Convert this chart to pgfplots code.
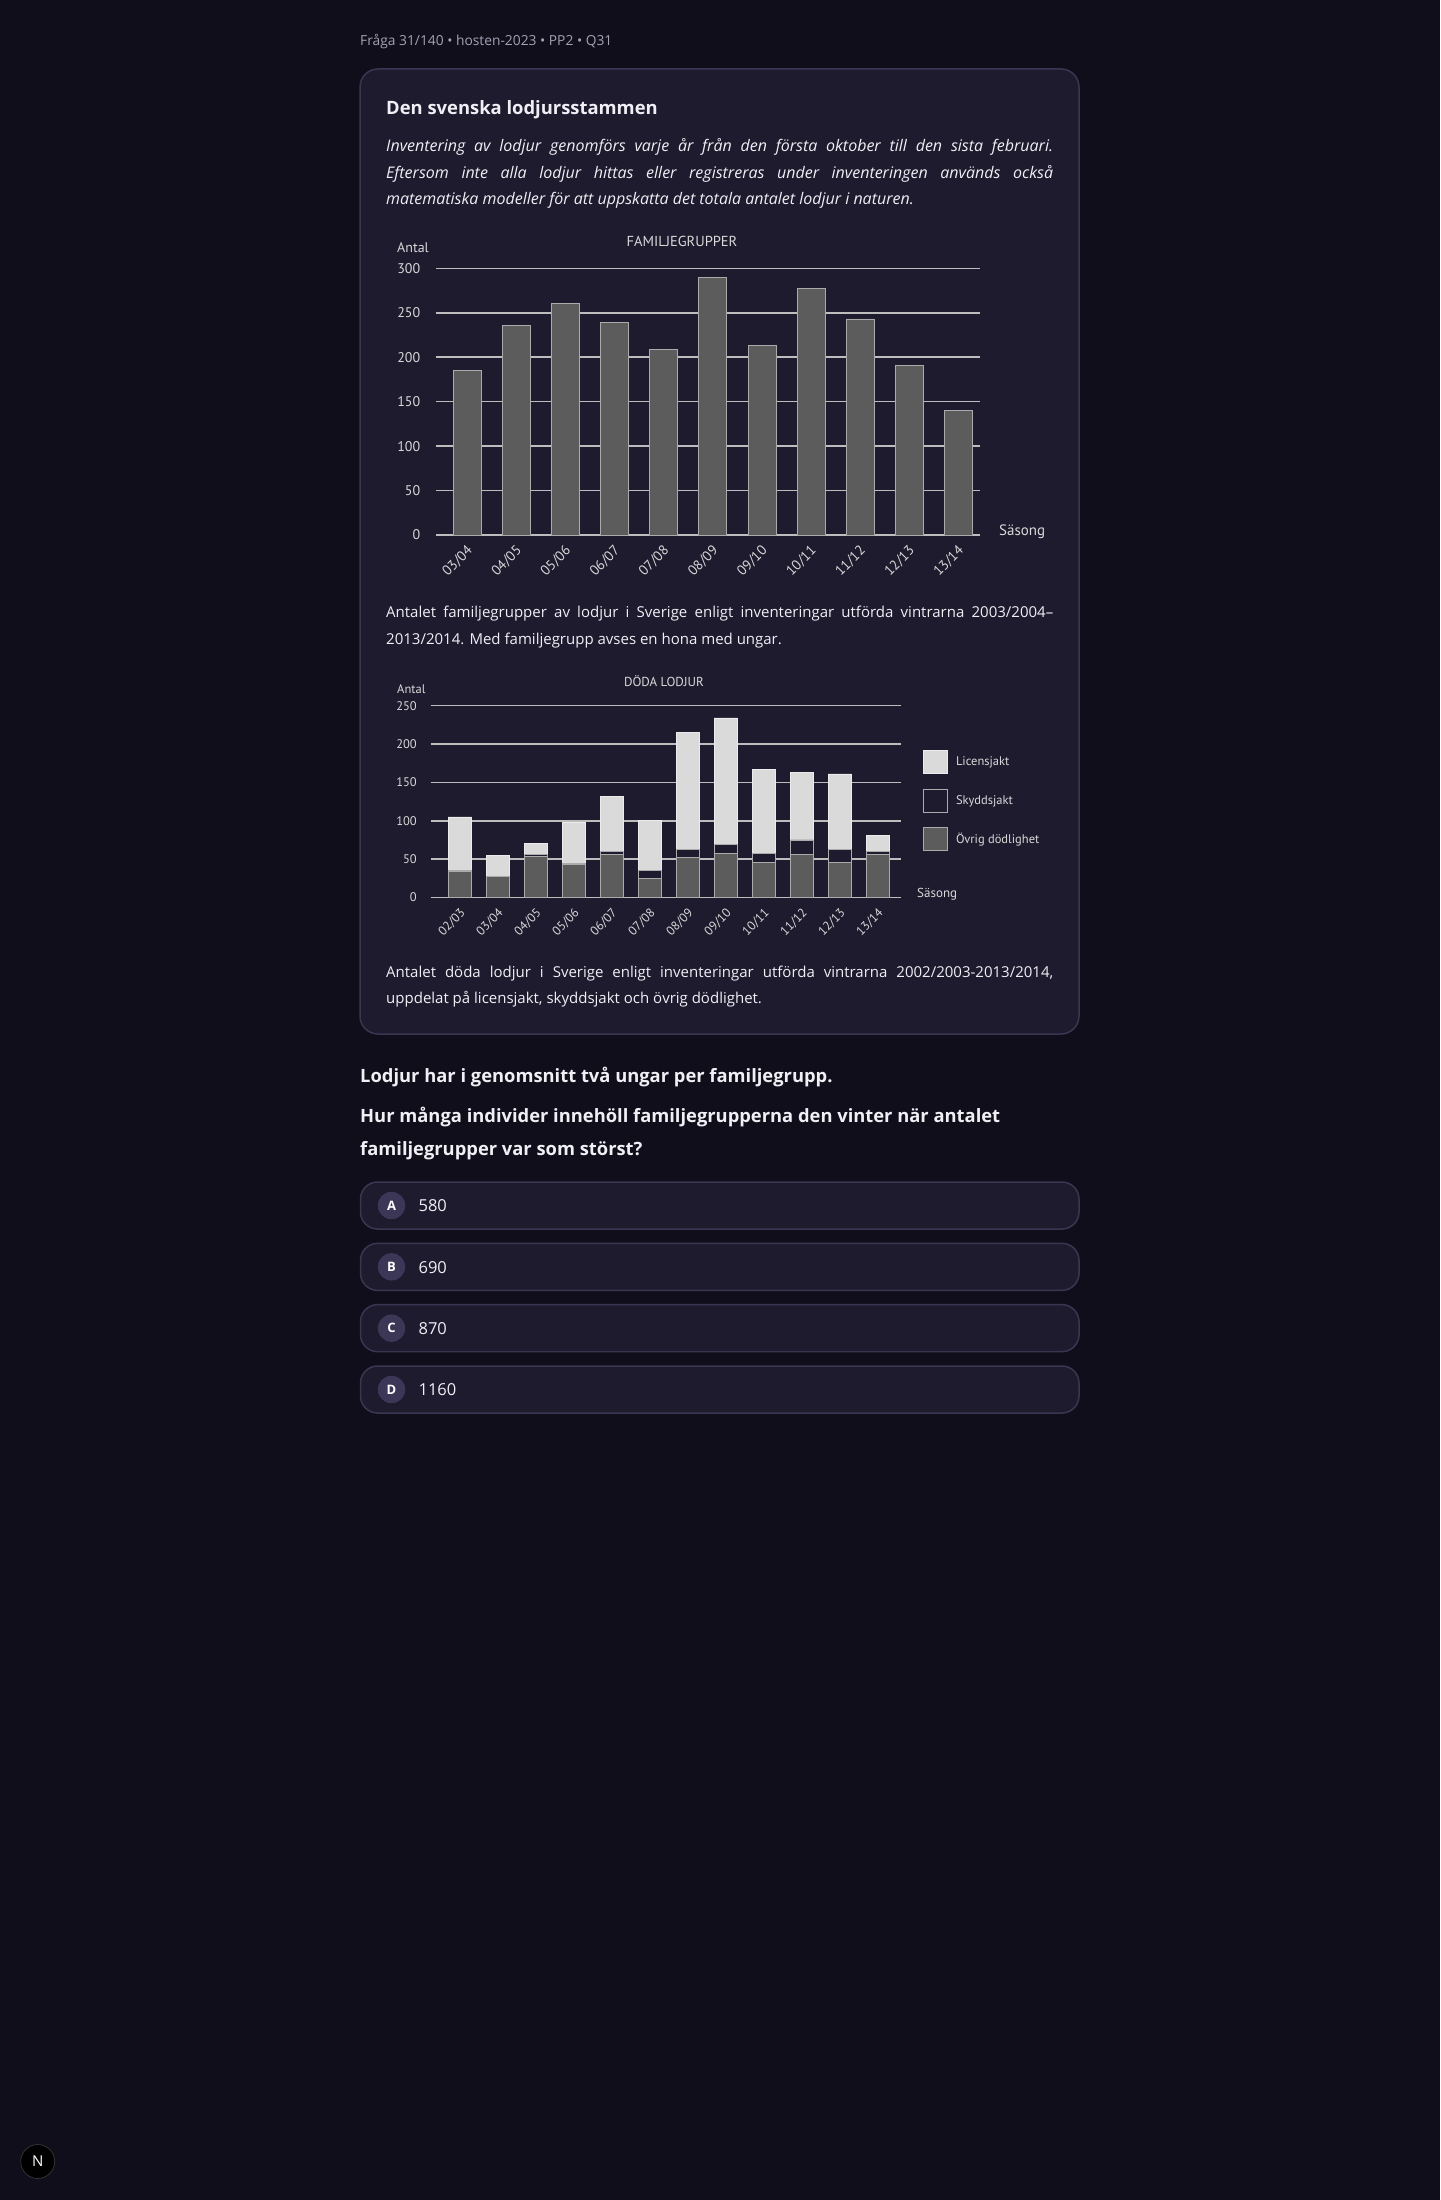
\documentclass[border=0pt]{standalone}
\usepackage{pgfplots}
\pgfplotsset{compat=1.18}
\usepackage{fontspec}
\setmainfont{Open Sans}
\newfontfamily\chartfont{PT Sans}
\definecolor{pagebg}{HTML}{0F0E1A}
\definecolor{cardbg}{HTML}{1E1B2E}
\definecolor{cardborder}{HTML}{3A3652}
\definecolor{badge}{HTML}{3C3757}
\definecolor{hdr}{HTML}{A3A1B5}
\definecolor{txt}{HTML}{F0EFF5}
\definecolor{chtxt}{HTML}{D8D8D8}
\definecolor{gridc}{HTML}{BDBDBD}
\definecolor{barfill}{HTML}{5C5C5C}
\definecolor{licfill}{HTML}{DADADA}
\definecolor{baredge}{HTML}{ABABAB}
\pgfplotsset{sqlegend/.style={legend image code/.code={\draw[##1] (0pt,-11.5pt) rectangle (24pt,11.5pt);}}}
\newcommand{\fs}[1]{\fontsize{#1pt}{#1pt}\selectfont}
\newcommand{\jline}[1]{\makebox[667pt][s]{#1}}
\begin{document}
\begin{tikzpicture}
\useasboundingbox (0pt,0pt) rectangle (1440pt,-2200pt);
\fill[pagebg] (0pt,0pt) rectangle (1440pt,-2200pt);
% header
\node[anchor=base west, inner sep=0pt, text=hdr, font=\fs{13.8}] at (360pt,-46pt) {Fråga 31/140 • hosten-2023 • PP2 • Q31};
% card
\draw[cardborder, fill=cardbg, line width=1.5pt, rounded corners=18pt] (360pt,-69pt) rectangle (1079pt,-1034pt);
\node[anchor=base west, inner sep=0pt, text=txt, font=\bfseries\fs{18.4}] at (386pt,-114pt) {Den svenska lodjursstammen};
\node[anchor=base west, inner sep=0pt, text=txt, font=\itshape\fs{16}] at (386pt,-151.7pt) {\jline{Inventering av lodjur genomförs varje år från den första oktober till den sista februari.}};
\node[anchor=base west, inner sep=0pt, text=txt, font=\itshape\fs{16}] at (386pt,-178.2pt) {\jline{Eftersom inte alla lodjur hittas eller registreras under inventeringen används också}};
\node[anchor=base west, inner sep=0pt, text=txt, font=\itshape\fs{16}] at (386pt,-204.5pt) {matematiska modeller för att uppskatta det totala antalet lodjur i naturen.};
% chart 1 texts
\node[anchor=base west, inner sep=0pt, text=chtxt, font=\chartfont\fs{14}] at (397pt,-252.7pt) {Antal};
\node[anchor=base, inner sep=0pt, text=chtxt, font=\chartfont\fs{14.5}] at (682pt,-246pt) {FAMILJEGRUPPER};
\node[anchor=base west, inner sep=0pt, text=chtxt, font=\chartfont\fs{15}] at (999pt,-535.5pt) {Säsong};
\begin{axis}[
  at={(435.9pt,-535pt)}, anchor=south west,
  scale only axis, width=543.7pt, height=266.7pt,
  xmin=-0.64, xmax=10.43, ymin=0, ymax=300,
  axis line style={draw=none},
  major tick length=0pt,
  ytick={0,50,...,300},
  ymajorgrids, grid style={color=gridc, line width=1.6pt},
  xtick={0,...,10},
  xticklabels={03/04,04/05,05/06,06/07,07/08,08/09,09/10,10/11,11/12,12/13,13/14},
  /pgf/number format/assume math mode=true,
  tick label style={font=\chartfont\fs{14}, text=chtxt},
  yticklabel style={anchor=east, inner sep=0pt, xshift=-15.5pt},
  xticklabel style={inner sep=0pt, anchor=east, rotate=45, xshift=-7.4pt, yshift=-11.7pt},
  clip=false,
]
\addplot[ybar, bar width=28pt, fill=barfill, draw=baredge, line width=0.9pt] coordinates {(0,185) (1,236) (2,260) (3,239) (4,209) (5,290) (6,213) (7,277) (8,243) (9,191) (10,140)};
\end{axis}
% caption 1
\node[anchor=base west, inner sep=0pt, text=txt, font=\fs{15}] at (386pt,-617.7pt) {\jline{Antalet familjegrupper av lodjur i Sverige enligt inventeringar utförda vintrarna 2003/2004–}};
\node[anchor=base west, inner sep=0pt, text=txt, font=\fs{15}] at (386pt,-644.3pt) {2013/2014. Med familjegrupp avses en hona med ungar.};
% chart 2 texts
\node[anchor=base west, inner sep=0pt, text=chtxt, font=\chartfont\fs{12.5}] at (397pt,-693.3pt) {Antal};
\node[anchor=base, inner sep=0pt, text=chtxt, font=\chartfont\fs{13}] at (664pt,-686.7pt) {DÖDA LODJUR};
\node[anchor=base west, inner sep=0pt, text=chtxt, font=\chartfont\fs{13}] at (917pt,-897.3pt) {Säsong};
\begin{axis}[
  at={(430.5pt,-897.5pt)}, anchor=south west,
  scale only axis, width=470.5pt, height=191.8pt,
  xmin=-0.771, xmax=11.61, ymin=0, ymax=250,
  ybar stacked, bar width=23.5pt,
  axis line style={draw=none},
  major tick length=0pt,
  ytick={0,50,...,250},
  ymajorgrids, grid style={color=gridc, line width=1.5pt},
  xtick={0,...,11},
  xticklabels={02/03,03/04,04/05,05/06,06/07,07/08,08/09,09/10,10/11,11/12,12/13,13/14},
  /pgf/number format/assume math mode=true,
  tick label style={font=\chartfont\fs{12.5}, text=chtxt},
  yticklabel style={anchor=east, inner sep=0pt, xshift=-13.5pt},
  xticklabel style={inner sep=0pt, anchor=east, rotate=45, xshift=-7.3pt, yshift=-12.2pt},
  clip=false,
  legend style={at={(1.0468,0.769)}, anchor=north west, draw=none, fill=none, inner sep=0pt, row sep=14.8pt, column sep=8pt, font=\chartfont\fs{12.5}, text=chtxt, nodes={inner sep=0pt}},
  legend cell align=left,
  reverse legend,
]
\addplot[fill=barfill, draw=baredge, line width=0.8pt, sqlegend] coordinates {(0,34) (1,28) (2,54) (3,43) (4,56) (5,25) (6,52) (7,58) (8,46) (9,56) (10,46) (11,56)};
\addplot[fill=cardbg, draw=baredge, line width=0.8pt, sqlegend] coordinates {(0,1) (1,0) (2,2) (3,1) (4,4) (5,10) (6,11) (7,11) (8,11) (9,19) (10,17) (11,4)};
\addplot[fill=licfill, draw=white!85!gray, line width=0.8pt, sqlegend] coordinates {(0,70) (1,27) (2,14) (3,54) (4,72) (5,65) (6,152) (7,165) (8,110) (9,88) (10,98) (11,21)};
\legend{Övrig dödlighet, Skyddsjakt, Licensjakt}
\end{axis}
% caption 2
\node[anchor=base west, inner sep=0pt, text=txt, font=\fs{15}] at (386pt,-977.2pt) {\jline{Antalet döda lodjur i Sverige enligt inventeringar utförda vintrarna 2002/2003-2013/2014,}};
\node[anchor=base west, inner sep=0pt, text=txt, font=\fs{15}] at (386pt,-1003.8pt) {uppdelat på licensjakt, skyddsjakt och övrig dödlighet.};
% question
\node[anchor=base west, inner sep=0pt, text=txt, font=\bfseries\fs{18.35}] at (360pt,-1082.7pt) {Lodjur har i genomsnitt två ungar per familjegrupp.};
\node[anchor=base west, inner sep=0pt, text=txt, font=\bfseries\fs{18.35}] at (360pt,-1122.3pt) {Hur många individer innehöll familjegrupperna den vinter när antalet};
\node[anchor=base west, inner sep=0pt, text=txt, font=\bfseries\fs{18.35}] at (360pt,-1155pt) {familjegrupper var som störst?};
% answers
\foreach \i/\L/\V in {0/A/580,1/B/690,2/C/870,3/D/1160}{
  \pgfmathsetmacro{\ytop}{1182+61.33*\i}
  \draw[cardborder, fill=cardbg, line width=1.5pt, rounded corners=17pt] (360.5pt,-\ytop pt) rectangle (1079pt,-\ytop pt-47pt);
  \fill[badge] (391.5pt,-\ytop pt-23.5pt) circle (13.7pt);
  \node[text=white, font=\bfseries\fs{13}, inner sep=0pt] at (391.5pt,-\ytop pt-23.5pt) {\L};
  \node[anchor=base west, inner sep=0pt, text=txt, font=\fs{16.5}] at (418.4pt,-\ytop pt-29.7pt) {\V};
}
% logo
\fill[black] (37.7pt,-2161.5pt) circle (17pt);
\draw[white!20!black, line width=0.8pt] (37.7pt,-2161.5pt) circle (17pt);
\node[text=white, font=\fs{15}, inner sep=0pt] at (37.7pt,-2161.5pt) {N};
\end{tikzpicture}
\end{document}
